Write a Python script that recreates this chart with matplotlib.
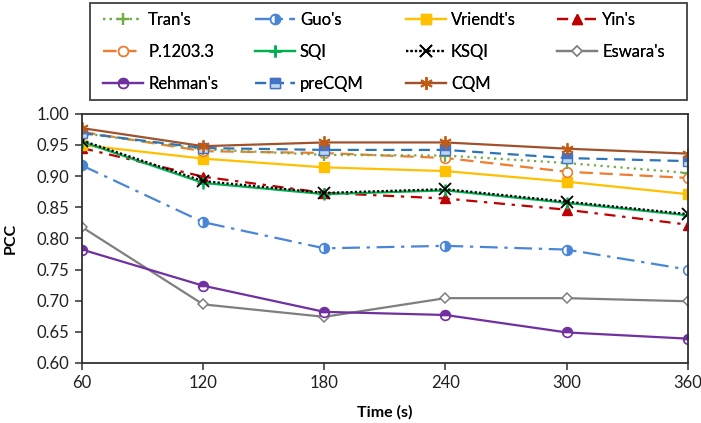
import matplotlib.pyplot as plt
from matplotlib.patches import Rectangle

plt.rcParams['font.family'] = ['Lato', 'DejaVu Sans']

time_s = [60, 120, 180, 240, 300, 360]

tran = [0.969, 0.943, 0.934, 0.933, 0.921, 0.905]
guo = [0.917, 0.826, 0.784, 0.788, 0.782, 0.750]
vriendt = [0.950, 0.928, 0.914, 0.908, 0.891, 0.871]
yin = [0.945, 0.899, 0.873, 0.864, 0.846, 0.822]
p1203 = [0.971, 0.940, 0.937, 0.929, 0.907, 0.897]
sqi = [0.955, 0.889, 0.871, 0.877, 0.857, 0.837]
ksqi = [0.957, 0.892, 0.873, 0.879, 0.859, 0.839]
eswara = [0.818, 0.694, 0.674, 0.704, 0.704, 0.699]
rehman = [0.782, 0.724, 0.682, 0.677, 0.649, 0.639]
precqm = [0.969, 0.945, 0.942, 0.942, 0.929, 0.924]
cqm = [0.977, 0.948, 0.954, 0.954, 0.944, 0.936]

fig = plt.figure(figsize=(7.01, 4.23), dpi=100)
ax = fig.add_axes([0.117, 0.142, 0.864, 0.589])

lw = 1.6
ms = 7
h = {}
h['eswara'], = ax.plot(time_s, eswara, color='#7F7F7F', lw=lw, marker='D', ms=5.5,
                       mfc='white', mec='#7F7F7F', mew=1.1, label="Eswara's")
h['rehman'], = ax.plot(time_s, rehman, color='#7030A0', lw=lw, marker='o', ms=ms,
                       fillstyle='top', mfc='#7030A0', mfcalt='white', mec='#7030A0',
                       mew=1.2, label="Rehman's")
h['guo'], = ax.plot(time_s, guo, color='#4A86D8', lw=lw, ls=(0, (8, 3, 1.5, 3)),
                    marker='o', ms=ms, fillstyle='right', mfc='#4A86D8', mfcalt='white',
                    mec='#4A86D8', mew=1.2, label="Guo's")
h['yin'], = ax.plot(time_s, yin, color='#C00000', lw=lw, ls=(0, (5, 3, 1.5, 3)),
                    marker='^', ms=ms, mfc='#C00000', mec='#C00000', label="Yin's")
h['vriendt'], = ax.plot(time_s, vriendt, color='#FFC000', lw=lw, marker='s', ms=6.5,
                        mfc='#FFC000', mec='#FFC000', label="Vriendt's")
h['sqi'], = ax.plot(time_s, sqi, color='#00B050', lw=lw, marker='+', ms=9, mew=1.8,
                    label='SQI')
h['ksqi'], = ax.plot(time_s, ksqi, color='black', lw=lw, ls=(0, (1, 1)), marker='x',
                     ms=8, mew=1.3, label='KSQI')
h['p1203'], = ax.plot(time_s, p1203, color='#ED7D31', lw=lw, ls=(0, (6, 3)),
                      marker='o', ms=ms, mfc='white', mec='#ED7D31', mew=1.2,
                      label='P.1203.3')
h['tran'], = ax.plot(time_s, tran, color='#70AD47', lw=lw, ls=(0, (1, 2)), marker='+',
                     ms=9, mew=1.6, label="Tran's")
h['precqm'], = ax.plot(time_s, precqm, color='#2E75B6', lw=lw, ls=(0, (5, 3)),
                       marker='s', ms=6.5, fillstyle='top', mfc='#4472C4',
                       mfcalt='#BDD7EE', mec='#4472C4', label='preCQM')
h['cqm'], = ax.plot(time_s, cqm, color='#A0522D', lw=lw, marker=(6, 2, 0), ms=9,
                    mew=1.3, mec='#C55A11', label='CQM')

ax.set_xlim(60, 360)
ax.set_ylim(0.60, 1.00)
ax.set_xticks(time_s)
ax.set_yticks([0.60 + 0.05 * i for i in range(9)])
ax.set_yticklabels([f'{0.60 + 0.05 * i:.2f}' for i in range(9)])
ax.tick_params(axis='both', labelsize=12, direction='out', length=5, width=1.2,
               color='#404040', labelcolor='#202020')
ax.tick_params(axis='y', pad=4)
for s in ['left', 'bottom', 'right', 'top']:
    ax.spines[s].set_color('#303030')
    ax.spines[s].set_linewidth(1.3)
ax.set_xlabel('Time (s)', fontsize=11.5, fontweight='bold', labelpad=10)
ax.set_ylabel('PCC', fontsize=11.5, fontweight='bold', labelpad=14)

# legend: frame plus four equal-width columns, like the Excel legend
fig.patches.append(Rectangle((0.128, 0.764), 0.852, 0.229, transform=fig.transFigure,
                             fill=False, edgecolor='#404040', lw=1.3))
columns = [['tran', 'p1203', 'rehman'], ['guo', 'sqi', 'precqm'],
           ['vriendt', 'ksqi', 'cqm'], ['yin', 'eswara']]
col_x = [103, 255, 406, 557]
for keys, x in zip(columns, col_x):
    lg = fig.legend([h[k] for k in keys], [h[k].get_label() for k in keys],
                    loc='upper left', bbox_to_anchor=(x / 701, 1 - 12 / 423),
                    fontsize=12, frameon=False, handlelength=2.4, handletextpad=0.3,
                    labelspacing=0.95, borderpad=0, borderaxespad=0)
    fig.add_artist(lg)

fig.savefig('out.png', dpi=100)
